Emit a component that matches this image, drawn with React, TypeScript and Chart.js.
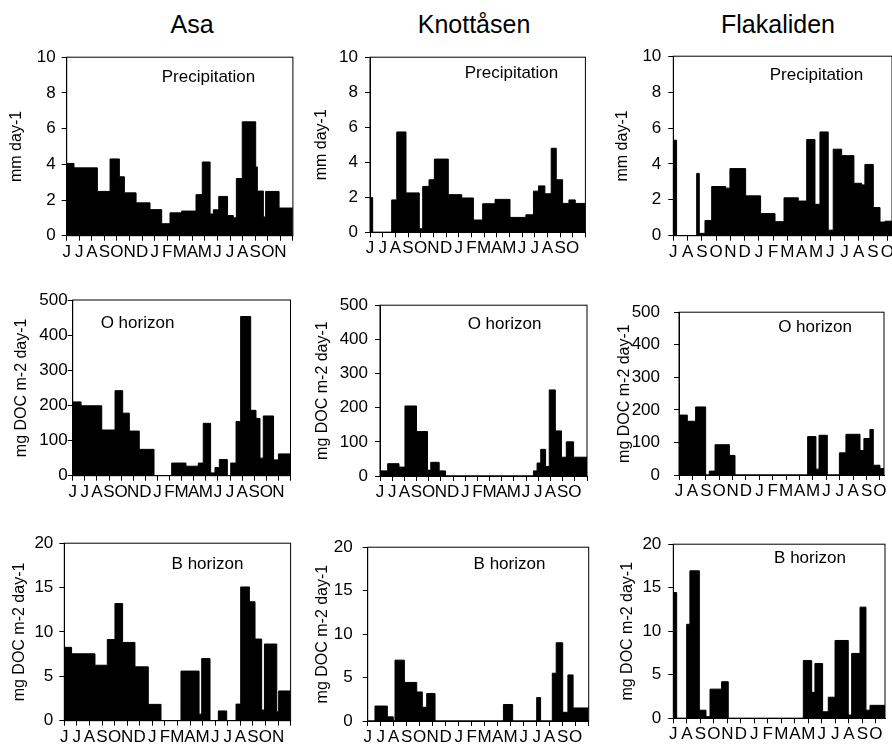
import React, { useEffect, useRef } from "react";
import { Chart, registerables } from "chart.js";
Chart.register(...registerables);

const FONT = "'Liberation Sans', Arial, Helvetica, sans-serif";

// ---------- tick labels (one per month tick) ----------
const asaMonths = ["J", "J", "A", "S", "O", "N", "D", "J", "F", "M", "A", "M", "J", "J", "A", "S", "O", "N"];
const knotMonths = ["J", "J", "A", "S", "O", "N", "D", "J", "F", "M", "A", "M", "J", "J", "A", "S", "O"];
const flakMonths = ["J", "A", "S", "O", "N", "D", "J", "F", "M", "A", "M", "J", "J", "A", "S", "O"];

const sites = ["Asa", "Knottåsen", "Flakaliden"];

// ---------- data: bar start (months from first tick) and value ----------
// Asa
const asaPrecipStarts = [0, 0.58, 2.44, 3.45, 4.19, 4.59, 5.52, 6.63, 7.56, 8.22, 9.15, 10.29, 10.79, 11.41, 11.67, 12.1, 12.8, 13.26, 13.5, 13.97, 15.04, 15.17, 15.65, 15.83, 16.9];
const asaPrecipValues = [4.05, 3.8, 2.48, 4.3, 3.3, 2.4, 1.84, 1.46, 0.67, 1.28, 1.38, 2.3, 4.13, 1.22, 1.45, 2.2, 1.13, 1.0, 3.2, 6.38, 3.85, 2.5, 1.05, 2.48, 1.55];
const asaPrecipEnd = 18;

const asaOStarts = [0, 0.69, 2.4, 3.5, 4.13, 4.68, 5.5, 6.72, 8.18, 9.36, 10.38, 10.79, 11.4, 11.76, 12.12, 12.78, 13.06, 13.5, 13.88, 14.71, 15.15, 15.48, 15.75, 16.6, 17.0];
const asaOValues = [210, 199, 130, 242, 178, 127, 75, 0, 36, 27, 36, 149, 8, 23, 46, 0, 36, 154, 453, 186, 163, 50, 170, 45, 62];
const asaOEnd = 18;

const asaBStarts = [0, 0.58, 2.44, 3.42, 4.03, 4.64, 5.62, 6.68, 7.69, 9.28, 10.72, 10.93, 11.59, 12.25, 12.92, 13.66, 14.03, 14.72, 15.17, 15.7, 15.92, 16.9, 17.05];
const asaBValues = [8.27, 7.54, 6.25, 9.15, 13.2, 8.82, 6.07, 1.84, 0, 5.59, 0.74, 7.0, 0, 1.1, 0, 1.87, 15.07, 13.4, 9.2, 1.2, 8.64, 1.0, 3.35];
const asaBEnd = 18;

// Knottåsen
const knotPrecipStarts = [0, 0.21, 1.71, 2.11, 2.84, 3.89, 4.16, 4.66, 5.08, 6.18, 7.24, 8.16, 8.89, 9.87, 11.05, 12.3, 12.9, 13.3, 13.8, 14.3, 14.7, 15.2, 15.7, 16.2];
const knotPrecipValues = [1.98, 0, 1.85, 5.73, 2.25, 0.2, 2.62, 3.0, 4.18, 2.15, 1.96, 0.7, 1.63, 1.88, 0.85, 1.0, 2.35, 2.65, 2.2, 4.8, 3.0, 1.65, 1.85, 1.65];
const knotPrecipEnd = 17;

const knotOStarts = [0, 0.63, 1.56, 2.05, 3.0, 3.9, 4.17, 4.86, 5.38, 12.6, 12.9, 13.2, 13.6, 13.9, 14.4, 14.9, 15.3, 15.9];
const knotOValues = [15, 36, 26, 205, 130, 17, 40, 15, 0, 15, 38, 78, 28, 252, 132, 55, 100, 55];
const knotOEnd = 17;

const knotBStarts = [0, 0.56, 1.51, 1.97, 2.1, 2.82, 3.77, 4.2, 4.54, 5.18, 10.44, 11.15, 13.0, 13.3, 14.2, 14.5, 15.0, 15.4, 15.8];
const knotBValues = [0, 1.72, 0.48, 0, 7.0, 4.44, 3.34, 1.58, 3.16, 0, 1.9, 0, 2.7, 0, 5.5, 9.0, 1.0, 5.3, 1.5];
const knotBEnd = 17;

// Flakaliden
const flakPrecipStarts = [0, 0.23, 1.64, 1.82, 2.22, 2.69, 3.67, 3.97, 5.07, 6.12, 7.13, 7.76, 8.76, 9.35, 9.93, 10.28, 10.86, 11.21, 11.8, 12.66, 13.2, 13.43, 14.02, 14.49, 14.84];
const flakPrecipValues = [5.32, 0, 3.47, 0.13, 0.85, 2.74, 2.65, 3.74, 2.22, 1.23, 0.78, 2.11, 1.93, 5.36, 1.75, 5.78, 0.31, 4.82, 4.46, 2.92, 2.83, 3.97, 1.57, 0.76, 0.81];
const flakPrecipEnd = 15.33;

const flakOStarts = [0, 0.62, 1.24, 1.99, 2.26, 2.69, 3.76, 4.18, 9.6, 10.22, 10.45, 11.07, 11.97, 12.46, 13.51, 13.8, 14.25, 14.5, 15.0];
const flakOValues = [184, 165, 209, 0, 12, 93, 60, 0, 118, 18, 122, 0, 68, 125, 75, 112, 140, 30, 20];
const flakOEnd = 15.3;

const flakBStarts = [0, 0.25, 0.99, 1.23, 1.93, 2.42, 2.72, 3.58, 4.07, 9.63, 10.25, 10.49, 11.06, 11.48, 11.98, 12.96, 13.21, 13.83, 14.27, 14.57];
const flakBValues = [14.45, 0, 10.8, 16.94, 0.93, 0.19, 3.35, 4.2, 0, 6.63, 2.98, 6.29, 0.75, 2.42, 8.94, 0.37, 7.45, 12.77, 0.93, 1.49];
const flakBEnd = 15.68;

// ---------- panel layout (page pixels) ----------
type PanelCfg = {
  starts: number[];
  values: number[];
  end: number;
  xMax: number;
  months: string[];
  yMax: number;
  yStep: number;
  yTitle: string;
  label: string;
  plot: [number, number, number, number]; // left, top, right, bottom
  titleX: number;
  labelX: number;
  labelY: number;
  tickPad: number;
};

const PRECIP = "mm day-1";
const DOC = "mg DOC m-2 day-1";

const panels: PanelCfg[] = [
  { starts: asaPrecipStarts, values: asaPrecipValues, end: asaPrecipEnd, xMax: 18, months: asaMonths, yMax: 10, yStep: 2, yTitle: PRECIP, label: "Precipitation", plot: [66.7, 52.7, 292.9, 235.7], titleX: 16.7, labelX: 208.5, labelY: 77, tickPad: 6 },
  { starts: knotPrecipStarts, values: knotPrecipValues, end: knotPrecipEnd, xMax: 17, months: knotMonths, yMax: 10, yStep: 2, yTitle: PRECIP, label: "Precipitation", plot: [370, 52, 585.4, 232.3], titleX: 321.7, labelX: 511.5, labelY: 73.5, tickPad: 7 },
  { starts: flakPrecipStarts, values: flakPrecipValues, end: flakPrecipEnd, xMax: 15.33, months: flakMonths, yMax: 10, yStep: 2, yTitle: PRECIP, label: "Precipitation", plot: [673.3, 51, 892, 235.7], titleX: 623, labelX: 816.5, labelY: 75, tickPad: 7 },
  { starts: asaOStarts, values: asaOValues, end: asaOEnd, xMax: 18, months: asaMonths, yMax: 500, yStep: 100, yTitle: DOC, label: "O horizon", plot: [72.7, 300, 290.5, 475.7], titleX: 21.7, labelX: 137.5, labelY: 323, tickPad: 0 },
  { starts: knotOStarts, values: knotOValues, end: knotOEnd, xMax: 17, months: knotMonths, yMax: 500, yStep: 100, yTitle: DOC, label: "O horizon", plot: [380, 300, 587, 476], titleX: 323, labelX: 504.5, labelY: 324, tickPad: 7 },
  { starts: flakOStarts, values: flakOValues, end: flakOEnd, xMax: 15.3, months: flakMonths, yMax: 500, yStep: 100, yTitle: DOC, label: "O horizon", plot: [679, 300, 884, 475], titleX: 625, labelX: 815, labelY: 327, tickPad: 14 },
  { starts: asaBStarts, values: asaBValues, end: asaBEnd, xMax: 18, months: asaMonths, yMax: 20, yStep: 5, yTitle: DOC, label: "B horizon", plot: [64.3, 539.3, 290.6, 720.7], titleX: 20, labelX: 207.5, labelY: 564, tickPad: 6 },
  { starts: knotBStarts, values: knotBValues, end: knotBEnd, xMax: 17, months: knotMonths, yMax: 20, yStep: 5, yTitle: DOC, label: "B horizon", plot: [367.7, 539.3, 588.7, 721], titleX: 323, labelX: 509.5, labelY: 564, tickPad: 10 },
  { starts: flakBStarts, values: flakBValues, end: flakBEnd, xMax: 15.68, months: flakMonths, yMax: 20, yStep: 5, yTitle: DOC, label: "B horizon", plot: [673.3, 539.3, 885, 718.3], titleX: 628, labelX: 810, labelY: 558, tickPad: 7 },
];

const siteTitleX = [192, 474, 778];

function Panel({ cfg }: { cfg: PanelCfg }) {
  const ref = useRef<HTMLCanvasElement | null>(null);
  const [pl, pt, pr, pb] = cfg.plot;
  const L = Math.round(cfg.titleX - 9.6);
  const T = Math.round(pt - 12);
  const rightPad = 8;
  const W = Math.ceil(pr - L + rightPad);
  const H = Math.round(pb - T + 30);
  const yAxisW = pl - L;
  const xAxisH = H - (pb - T);

  useEffect(() => {
    if (!ref.current) return;
    const points = cfg.starts.map((s, i) => ({ x: s, y: cfg.values[i] }));
    points.push({ x: cfg.end, y: cfg.values[cfg.values.length - 1] });

    const framePlugin = {
      id: "frameAndLabel",
      afterDraw(chart: any) {
        const { ctx, chartArea } = chart;
        ctx.save();
        ctx.strokeStyle = "#000";
        ctx.lineWidth = 1;
        ctx.strokeRect(chartArea.left, chartArea.top, chartArea.right - chartArea.left, chartArea.bottom - chartArea.top);
        ctx.fillStyle = "#000";
        ctx.font = `17px ${FONT}`;
        ctx.textAlign = "center";
        ctx.textBaseline = "middle";
        ctx.fillText(cfg.label, cfg.labelX - L, cfg.labelY - T);
        ctx.restore();
      },
    };

    const chart = new Chart(ref.current, {
      type: "line",
      data: {
        datasets: [
          {
            data: points,
            stepped: true,
            fill: "origin",
            backgroundColor: "#000",
            borderColor: "#000",
            borderWidth: 1,
            pointRadius: 0,
            pointHoverRadius: 0,
          },
        ],
      },
      options: {
        animation: false,
        responsive: false,
        devicePixelRatio: 1,
        events: [],
        layout: { padding: { left: 0, top: pt - T, right: W - (pr - L), bottom: 0 } },
        plugins: { legend: { display: false }, tooltip: { enabled: false }, title: { display: false } },
        scales: {
          x: {
            type: "linear",
            min: 0,
            max: cfg.xMax,
            afterFit: (s: any) => {
              s.height = xAxisH;
            },
            border: { display: true, color: "#000", width: 1 },
            grid: { drawOnChartArea: false, drawTicks: true, tickLength: 5, color: "#000", lineWidth: 1 },
            ticks: {
              stepSize: 1,
              autoSkip: false,
              maxRotation: 0,
              minRotation: 0,
              includeBounds: false,
              padding: 1,
              color: "#000",
              font: { family: FONT, size: 17 },
              callback: (v: any) => {
                const n = Number(v);
                return Number.isInteger(n) && n < cfg.months.length ? cfg.months[n] : "";
              },
            },
          },
          y: {
            min: 0,
            max: cfg.yMax,
            afterFit: (s: any) => {
              s.width = yAxisW;
            },
            border: { display: true, color: "#000", width: 1 },
            grid: { drawOnChartArea: false, drawTicks: true, tickLength: 5, color: "#000", lineWidth: 1 },
            ticks: {
              stepSize: cfg.yStep,
              padding: cfg.tickPad,
              color: "#000",
              font: { family: FONT, size: 17 },
            },
            title: {
              display: true,
              text: cfg.yTitle,
              color: "#000",
              padding: { top: 0, bottom: 0 },
              font: { family: FONT, size: 16 },
            },
          },
        },
      },
      plugins: [framePlugin],
    } as any);
    return () => chart.destroy();
  }, []);

  return (
    <canvas
      ref={ref}
      width={W}
      height={H}
      style={{ position: "absolute", left: L, top: T, width: W, height: H }}
    />
  );
}

export default function App() {
  return (
    <div
      style={{
        position: "fixed",
        left: 0,
        top: 0,
        width: 892,
        height: 747,
        overflow: "hidden",
        background: "#fff",
        fontFamily: FONT,
      }}
    >
      {sites.map((s, i) => (
        <div
          key={s}
          style={{
            position: "absolute",
            left: siteTitleX[i] - 100,
            width: 200,
            top: 12,
            textAlign: "center",
            fontSize: 25,
            lineHeight: "25px",
            color: "#000",
          }}
        >
          {s}
        </div>
      ))}
      {panels.map((p, i) => (
        <Panel key={i} cfg={p} />
      ))}
    </div>
  );
}
